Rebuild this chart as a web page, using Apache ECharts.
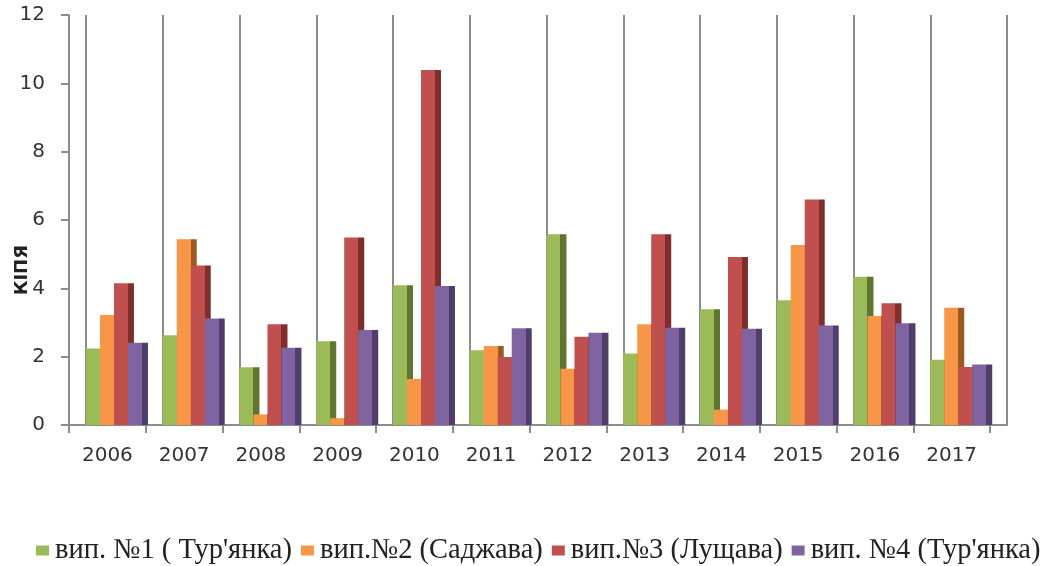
<!DOCTYPE html>
<html>
<head>
<meta charset="utf-8">
<script src="https://cdn.jsdelivr.net/npm/echarts@6/dist/echarts.min.js"></script>
<style>
  html, body { margin: 0; padding: 0; background: #fff; }
  #chart { width: 1054px; height: 566px; }
</style>
</head>
<body>
<div id="chart"></div>
<script>
// data
var years = ['2006', '2007', '2008', '2009', '2010', '2011', '2012', '2013', '2014', '2015', '2016', '2017'];
var names = ["вип. №1 ( Тур'янка)", 'вип.№2 (Саджава)', 'вип.№3 (Лущава)', "вип. №4 (Тур'янка)"];
var well1 = [2.24, 2.63, 1.69, 2.45, 4.09, 2.19, 5.58, 2.09, 3.39, 3.65, 4.34, 1.91];
var well2 = [3.22, 5.44, 0.31, 0.20, 1.35, 2.31, 1.65, 2.95, 0.45, 5.27, 3.19, 3.43];
var well3 = [4.15, 4.67, 2.95, 5.49, 10.39, 1.99, 2.58, 5.58, 4.92, 6.60, 3.56, 1.70];
var well4 = [2.41, 3.12, 2.26, 2.78, 4.07, 2.83, 2.70, 2.85, 2.82, 2.91, 2.98, 1.77];
var yTicks = [0, 2, 4, 6, 8, 10, 12];

var frontColors = ['#9BBB59', '#F79646', '#C0504D', '#8064A2'];
var sideColors = ['#5F7530', '#9C5A23', '#7F2E2D', '#4F3D6B'];
var allValues = [well1, well2, well3, well4];

var myChart = echarts.init(document.getElementById('chart'));

var axisGray = '#8C8C8C';
var font = 'DejaVu Sans';

// front face 70%, dark side 30% (flat imitation of the 3D columns)
function faceFill(i) {
  return new echarts.graphic.LinearGradient(0, 0, 1, 0, [
    { offset: 0, color: frontColors[i] },
    { offset: 0.7, color: frontColors[i] },
    { offset: 0.7, color: sideColors[i] },
    { offset: 1, color: sideColors[i] }
  ]);
}

var yBase = { type: 'value', min: 0, max: yTicks[yTicks.length - 1], interval: 2 };

var option = {
  animation: false,
  grid: [
    { left: 69, top: 15, width: 921, height: 410 },   // axes, ticks, labels
    { left: 86, top: 15, width: 921, height: 410 },   // vertical grid lines (shifted back wall)
    { left: 78.6, top: 15, width: 921, height: 410 }  // columns
  ],
  xAxis: [
    {
      type: 'category', data: years, gridIndex: 0,
      axisLine: { lineStyle: { color: axisGray, width: 2 } },
      axisTick: { show: true, length: 8, lineStyle: { color: axisGray, width: 2 } },
      axisLabel: { color: '#333', fontFamily: font, fontSize: 20, margin: 21 },
      splitLine: { show: false }
    },
    {
      type: 'category', data: years, gridIndex: 1,
      axisLine: { lineStyle: { color: axisGray, width: 2 } },
      axisTick: { show: false }, axisLabel: { show: false },
      splitLine: { show: true, lineStyle: { color: axisGray, width: 2 } }
    },
    {
      type: 'category', data: years, gridIndex: 2, show: false
    }
  ],
  yAxis: [
    Object.assign({}, yBase, {
      gridIndex: 0,
      axisLine: { show: true, lineStyle: { color: axisGray, width: 2 } },
      axisTick: { show: true, length: 8, lineStyle: { color: axisGray, width: 2 } },
      axisLabel: { color: '#333', fontFamily: font, fontSize: 20, margin: 24 },
      splitLine: { show: false }
    }),
    Object.assign({}, yBase, { gridIndex: 1, show: false, splitLine: { show: false } }),
    Object.assign({}, yBase, { gridIndex: 2, show: false, splitLine: { show: false } })
  ],
  legend: {
    left: 36, top: 536, width: 1018, padding: 0,
    itemWidth: 13, itemHeight: 10, itemGap: 9,
    icon: 'rect',
    textStyle: { fontFamily: 'Liberation Serif', fontSize: 28.5, color: '#222', padding: [0, 0, 0, 1] },
    data: names.map(function (n, i) {
      return { name: n, itemStyle: { color: frontColors[i] } };
    })
  },
  graphic: [{
    type: 'text', left: 13, top: 245, rotation: Math.PI / 2,
    style: { text: 'КІПЯ', font: 'bold 18px "DejaVu Sans"', fill: '#222' }
  }],
  series: allValues.map(function (vals, i) {
    return {
      name: names[i],
      type: 'bar',
      xAxisIndex: 2, yAxisIndex: 2,
      barWidth: 20, barGap: '-30%',
      itemStyle: { color: faceFill(i) },
      data: vals
    };
  })
};

myChart.setOption(option);
</script>
</body>
</html>
